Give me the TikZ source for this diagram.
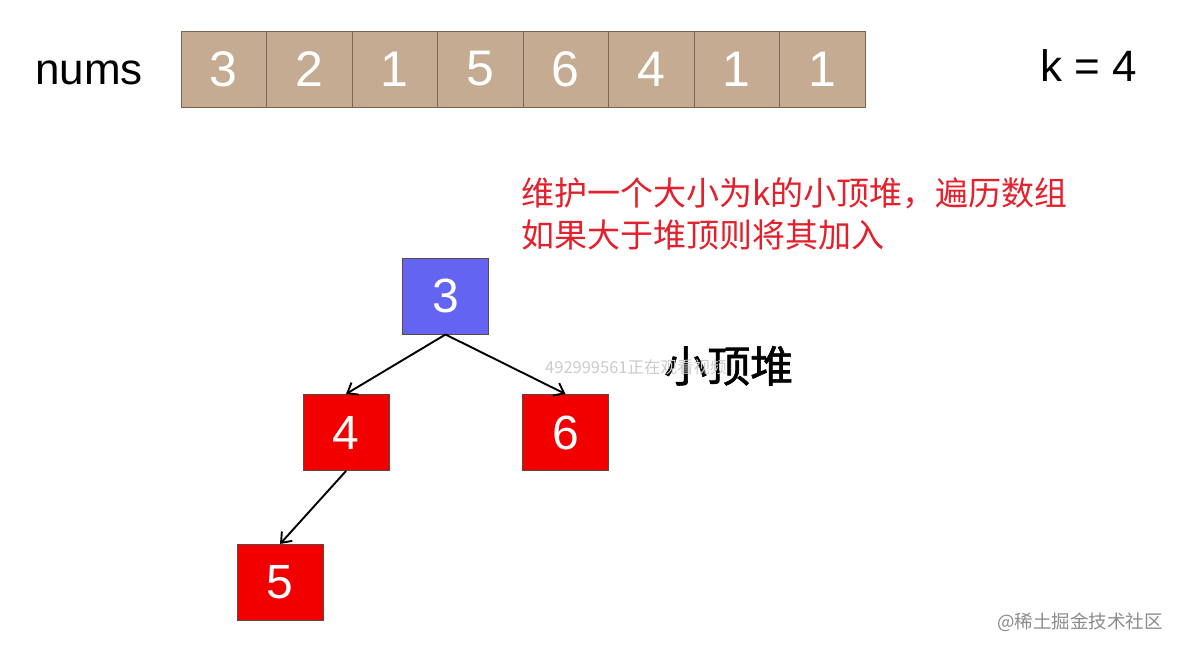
\documentclass[tikz,border=0pt]{standalone}
\usepackage{fontspec}
\setmainfont{Liberation Sans}
\newfontfamily\cjk{Noto Sans CJK SC}
\newfontfamily\cjkheavy[FakeBold=1.4]{Noto Sans CJK SC}
\usetikzlibrary{arrows.meta}
\definecolor{celltan}{HTML}{C4AB91}
\definecolor{cellborder}{HTML}{7A6550}
\definecolor{nodeborder}{HTML}{5A4A40}
\definecolor{heapblue}{HTML}{6464F2}
\definecolor{heapred}{HTML}{F20000}
\definecolor{notered}{HTML}{E3202B}
\tikzset{
  cell/.style={draw=cellborder, fill=celltan, line width=1pt, minimum width=85.5pt, minimum height=76pt, inner sep=0pt, text=white, font=\fontsize{50}{50}\selectfont},
  heapnode/.style={draw=nodeborder, line width=1pt, minimum width=86pt, minimum height=76pt, inner sep=0pt, text=white, font=\fontsize{48}{48}\selectfont},
  edge/.style={line width=1.9pt, -{Straight Barb[length=9pt,width=14pt,line width=1.9pt]}},
  label/.style={inner sep=0pt, font=\fontsize{44}{44}\selectfont},
}
\begin{document}
\begin{tikzpicture}[x=1pt,y=-1pt]
\useasboundingbox (0,0) rectangle (1177,651);
\fill[white] (0,0) rectangle (1177,651);
% array
\node[label, anchor=base west] (nums) at (35,84) {nums};
\foreach \v [count=\i] in {3,2,1,5,6,4,1,1}{
  \node[cell] (c\i) at ({181+85.5*(\i-0.5)},69) {\v};
}
\node[label, anchor=base west] (k) at (1040,81) {k = 4};
% note
\node[inner sep=0pt, anchor=base west, text=notered, font=\cjk\fontsize{33}{33}\selectfont] (l1) at (521,205) {维护一个大小为k的小顶堆，遍历数组};
\node[inner sep=0pt, anchor=base west, text=notered, font=\cjk\fontsize{33}{33}\selectfont] (l2) at (521,247) {如果大于堆顶则将其加入};
% heap
\node[heapnode, fill=heapblue] (root) at (445.5,296) {3};
\node[heapnode, fill=heapred] (n4) at (346,432.5) {4};
\node[heapnode, fill=heapred] (n6) at (565.5,432.5) {6};
\node[heapnode, fill=heapred] (n5) at (280,582.5) {5};
\draw[edge] (root.south) -- (n4.north);
\draw[edge] (root.south) -- (n6.north);
\draw[edge] (n4.south) -- (n5.north);
\node[inner sep=0pt, anchor=base west, font=\cjkheavy\fontsize{43}{43}\selectfont] (title) at (664,382) {小顶堆};
% watermarks
\node[inner sep=0pt, anchor=base west, text=black!20, font=\cjk\fontsize{16.5}{16.5}\selectfont] (wm1) at (545,373) {492999561正在观看视频};
\node[inner sep=0pt, anchor=base west, text=black!45, font=\cjk\fontsize{18.5}{18.5}\selectfont] (wm2) at (997,628) {@稀土掘金技术社区};
\end{tikzpicture}
\end{document}
